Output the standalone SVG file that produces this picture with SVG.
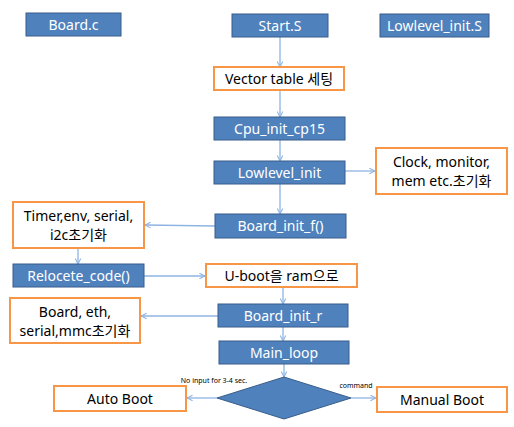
<svg xmlns="http://www.w3.org/2000/svg" width="514" height="427" viewBox="0 0 514 427">
<style>
.b{fill:#4F81BD;stroke:#385D8A;stroke-width:1}
.o{fill:#FFFFFF;stroke:#F79646;stroke-width:2}
text{font-family:"Noto Sans","Noto Sans CJK KR",sans-serif;font-size:14px;text-anchor:middle}
.bt{fill:#FFFFFF}
.ot{fill:#000000}
.s{font-size:7px;fill:#000}
.c{stroke:#8EB4E3;stroke-width:1.3;fill:none;marker-end:url(#a)}
</style>
<defs>
<marker id="a" viewBox="0 0 10 10" refX="9" refY="5" markerWidth="7" markerHeight="7" orient="auto" markerUnits="userSpaceOnUse">
<path d="M1,1 L9,5 L1,9" fill="none" stroke="#8EB4E3" stroke-width="1.5"/>
</marker>
</defs>
<rect width="514" height="427" fill="#FFFFFF"/>
<g id="connectors">
<line class="c" x1="280" y1="37" x2="280" y2="67"/>
<line class="c" x1="280" y1="90" x2="280" y2="117"/>
<line class="c" x1="280" y1="140" x2="280" y2="161"/>
<line class="c" x1="345" y1="171" x2="375" y2="171"/>
<line class="c" x1="280" y1="184" x2="280" y2="214"/>
<line class="c" x1="215" y1="226" x2="145" y2="225"/>
<line class="c" x1="78" y1="248" x2="78" y2="264"/>
<line class="c" x1="144" y1="276" x2="205" y2="276"/>
<line class="c" x1="283" y1="287" x2="283" y2="304"/>
<line class="c" x1="218" y1="316" x2="141" y2="316"/>
<line class="c" x1="283" y1="327" x2="283" y2="341"/>
<line class="c" x1="284" y1="364" x2="284" y2="377"/>
<line class="c" x1="217" y1="398" x2="187" y2="398"/>
<line class="c" x1="351" y1="398" x2="376" y2="398"/>
</g>
<g id="board_c"><rect class="b" x="26" y="13" width="95" height="23"/><text class="bt" x="73.5" y="29.5">Board.c</text></g>
<g id="start_s"><rect class="b" x="232" y="14" width="96" height="23"/><text class="bt" x="280" y="30.5">Start.S</text></g>
<g id="lowlevel_init_s"><rect class="b" x="380" y="14" width="109" height="23"/><text class="bt" x="434.5" y="30.5">Lowlevel_init.S</text></g>
<g id="vector"><rect class="o" x="214" y="67" width="130" height="23"/><text class="ot" x="279" y="83.5">Vector table 세팅</text></g>
<g id="cpu_init"><rect class="b" x="214" y="117" width="131" height="23"/><text class="bt" x="279.5" y="133.5">Cpu_init_cp15</text></g>
<g id="lowlevel_init"><rect class="b" x="214" y="161" width="131" height="23"/><text class="bt" x="279.5" y="177.5">Lowlevel_init</text></g>
<g id="clock"><rect class="o" x="376" y="148" width="131" height="46"/><text class="ot" x="441.5" y="167">Clock, monitor,</text><text class="ot" x="441.5" y="186">mem etc.초기화</text></g>
<g id="board_init_f"><rect class="b" x="215" y="214" width="131" height="24"/><text class="bt" x="280.5" y="231">Board_init_f()</text></g>
<g id="timer"><rect class="o" x="13" y="202" width="131" height="46"/><text class="ot" x="78.5" y="221">Timer,env, serial,</text><text class="ot" x="78.5" y="240">i2c초기화</text></g>
<g id="relocate"><rect class="b" x="13" y="264" width="131" height="23"/><text class="bt" x="78.5" y="280.5">Relocete_code()</text></g>
<g id="uboot"><rect class="o" x="206" y="264" width="151" height="23"/><text class="ot" x="281.5" y="280.5">U-boot을 ram으로</text></g>
<g id="board_init_r"><rect class="b" x="218" y="304" width="130" height="23"/><text class="bt" x="283" y="320.5">Board_init_r</text></g>
<g id="board_eth"><rect class="o" x="10" y="298" width="130" height="45"/><text class="ot" x="75" y="317">Board, eth,</text><text class="ot" x="75" y="336">serial,mmc초기화</text></g>
<g id="main_loop"><rect class="b" x="219" y="341" width="130" height="23"/><text class="bt" x="284" y="357.5">Main_loop</text></g>
<g id="decision"><polygon class="b" points="284,377 351,398 284,419 217,398"/></g>
<g id="auto_boot"><rect class="o" x="54" y="386" width="132" height="25"/><text class="ot" x="120" y="403.5">Auto Boot</text></g>
<g id="manual_boot"><rect class="o" x="377" y="387" width="130" height="25"/><text class="ot" x="442" y="404.5">Manual Boot</text></g>
<text class="s" x="214" y="383">No input for 3-4 sec.</text>
<text class="s" x="356" y="388">command</text>
</svg>
